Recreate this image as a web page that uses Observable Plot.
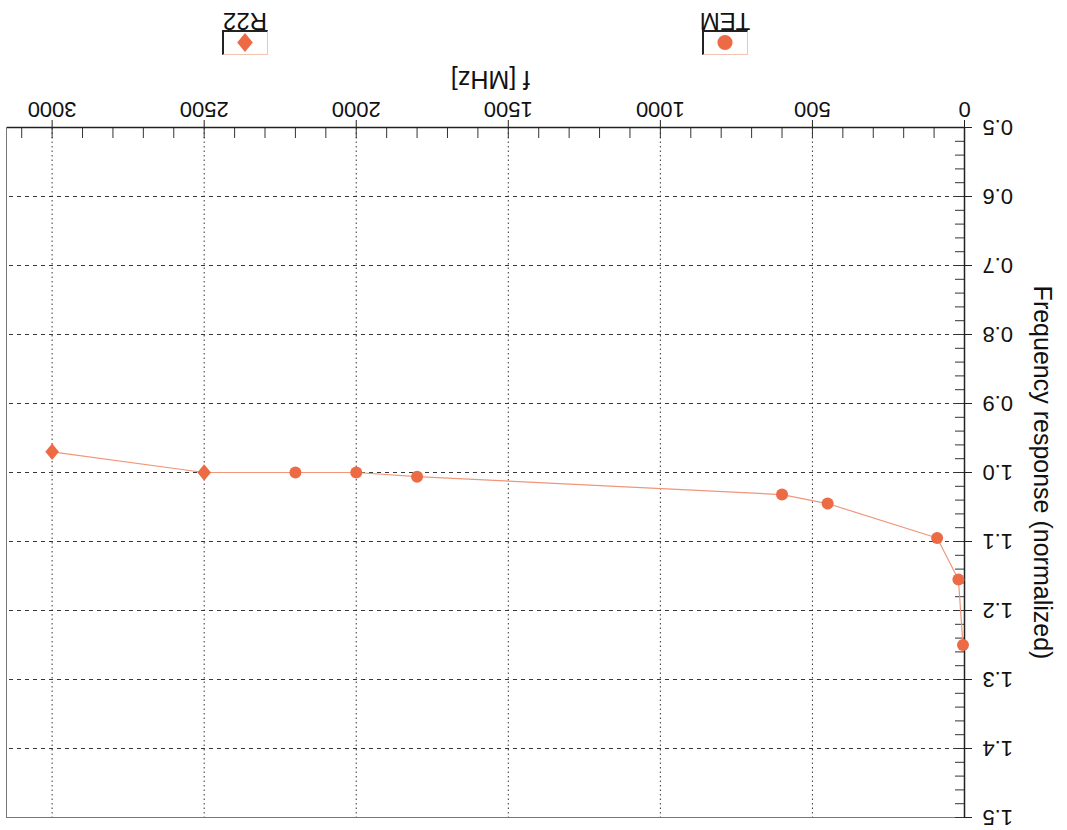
<!DOCTYPE html>
<html><head><meta charset="utf-8">
<script src="https://cdn.jsdelivr.net/npm/d3@7"></script>
<script src="https://cdn.jsdelivr.net/npm/@observablehq/plot@0.6"></script>
<style>
html,body{margin:0;padding:0;background:#fff;overflow:hidden}
#wrap{position:relative;width:1067px;height:830px;transform:rotate(180deg);font-family:"Liberation Sans",Arial,sans-serif;background:#fff}
#chart{position:absolute;left:0;top:0}
.leg{position:absolute;top:775px;width:46px;height:50px}
.box{position:absolute;left:0;top:0;width:46px;height:25px;box-sizing:border-box;border:1px solid #f0c4b4;border-right:2px solid #222;border-bottom:2px solid #222;background:#fff}
.box svg{position:absolute;left:0;top:0}
.lab{position:absolute;left:-12px;width:70px;top:22px;text-align:center;font-size:24px;line-height:24px;color:#111}
</style></head>
<body>
<div id="wrap">
  <div id="chart"></div>
  <div id="legend"></div>
</div>
<script>
// ---- data ----
const freq = [5, 20, 90, 450, 600, 1800, 2000, 2200, 2500, 3000];
const resp = [1.25, 1.155, 1.095, 1.045, 1.032, 1.006, 1.0, 1.0, 1.0, 0.97];
const mode = ["TEM","TEM","TEM","TEM","TEM","TEM","TEM","TEM","R22","R22"];
const seriesNames = ["TEM", "R22"];
const xTicks = [0, 500, 1000, 1500, 2000, 2500, 3000];
const yTicks = [0.5, 0.6, 0.7, 0.8, 0.9, 1.0, 1.1, 1.2, 1.3, 1.4, 1.5];
const xLabel = "f [MHz]";
const yLabel = "Frequency response (normalized)";

const markerColor = "#ec6a44";
const lineColor = "#f0967a";
const xMinor = d3.range(0, 3150, 100);
const yMinor = d3.range(0, 51).map(i => 0.5 + i * 0.02);

// slightly tall rhombus, like the reference's diamond marker
const rhombus = {
  draw(ctx, size) {
    const h = Math.sqrt(size) * 0.78, w = h * 0.82;
    ctx.moveTo(0, -h); ctx.lineTo(w, 0); ctx.lineTo(0, h); ctx.lineTo(-w, 0); ctx.closePath();
  }
};
const seriesSymbols = [d3.symbolCircle, rhombus];

const data = freq.map((f, i) => ({f, r: resp[i], mode: mode[i]}));

const chart = Plot.plot({
  width: 1067, height: 770,
  marginLeft: 102, marginRight: 7, marginTop: 12, marginBottom: 68,
  style: {fontFamily: '"Liberation Sans", Arial, sans-serif', fontSize: "22px", background: "#fff", color: "#111"},
  x: {domain: [0, 3150]},
  y: {domain: [0.5, 1.5]},
  symbol: {domain: seriesNames, range: seriesSymbols},
  marks: [
    Plot.gridX({ticks: xTicks.filter(d => d > 0), stroke: "#222", strokeOpacity: 0.9, strokeDasharray: "1.5,3"}),
    Plot.gridY({ticks: yTicks.filter(d => d > 0.5 && d < 1.5), stroke: "#222", strokeOpacity: 0.9, strokeDasharray: "4,4"}),
    Plot.frame({stroke: "#777"}),
    Plot.axisX({ticks: xMinor, tickSize: 10, dy: -10, tickFormat: () => "", label: null, stroke: "#333"}),
    Plot.axisY({ticks: yMinor, tickSize: 10, dx: 10, tickFormat: () => "", label: null, stroke: "#333"}),
    Plot.axisX({ticks: xTicks, tickSize: 8, tickPadding: 2, fontSize: 22, tickFormat: d => String(d), label: null, stroke: "#222"}),
    Plot.axisY({ticks: yTicks, tickSize: 7, tickPadding: 11, fontSize: 22, tickFormat: d3.format(".1f"), label: null, stroke: "#222"}),
    Plot.ruleX([0], {stroke: "#222", strokeWidth: 1.5}),
    Plot.ruleY([0.5], {stroke: "#222", strokeWidth: 1.5}),
    Plot.line(data, {x: "f", y: "r", stroke: lineColor, strokeWidth: 1.2}),
    Plot.dot(data, {x: "f", y: "r", symbol: "mode", fill: markerColor, stroke: "none", r: 6}),
    Plot.text([yLabel], {text: d => d, frameAnchor: "left", textAnchor: "middle", dx: -77, rotate: -90, fontSize: 25, fill: "#111"}),
    Plot.text([xLabel], {text: d => d, frameAnchor: "bottom", textAnchor: "middle", dy: 57, dx: -5, fontSize: 25, fill: "#111"})
  ]
});
document.getElementById("chart").appendChild(chart);

// ---- legend ----
const legendX = [319, 799];
const legend = document.getElementById("legend");
seriesNames.forEach((name, i) => {
  const item = document.createElement("div");
  item.className = "leg";
  item.style.left = legendX[i] + "px";
  const sym = d3.symbol(seriesSymbols[i], i === 0 ? 180 : 150)();
  item.innerHTML = `<div class="box"><svg width="44" height="23"><path transform="translate(22,11.5)" d="${sym}" fill="${markerColor}"/></svg></div><div class="lab">${name}</div>`;
  legend.appendChild(item);
});
</script>
</body></html>
